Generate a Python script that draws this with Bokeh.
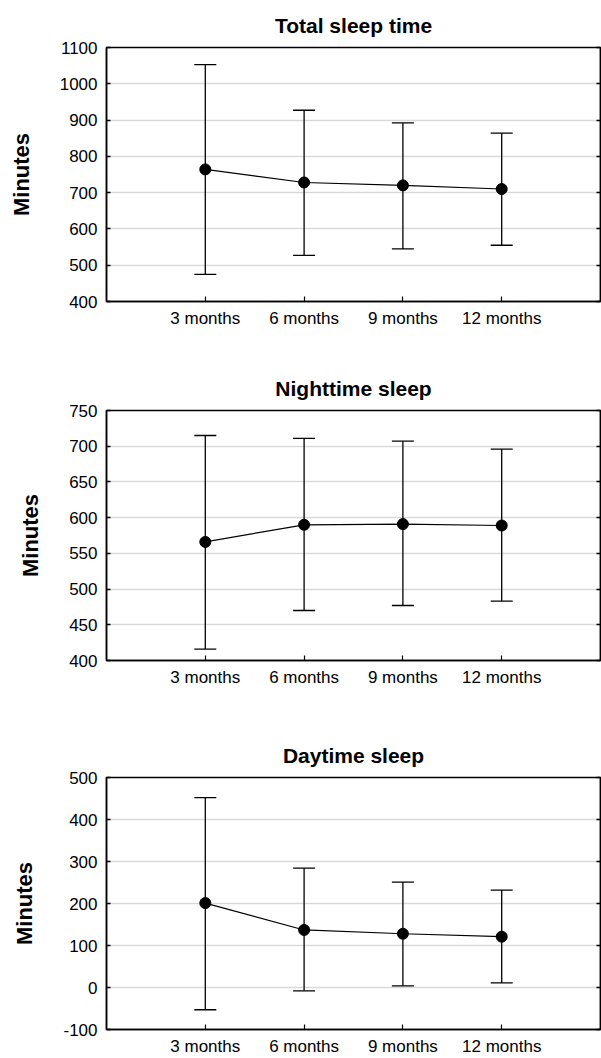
from bokeh.plotting import figure
from bokeh.layouts import column
from bokeh.models import (FactorRange, Range1d, FixedTicker, LinearAxis, Whisker,
                          TeeHead, ColumnDataSource)
from bokeh.embed import file_html
from bokeh.resources import INLINE

categories = ["3 months", "6 months", "9 months", "12 months"]

total_mean = [764, 728, 720, 710]
total_upper = [1053, 927, 892, 864]
total_lower = [475, 527, 545, 555]

night_mean = [566, 590, 591, 589]
night_upper = [715, 711, 707, 696]
night_lower = [416, 470, 477, 483]

day_mean = [201, 137, 128, 121]
day_upper = [452, 284, 251, 232]
day_lower = [-53, -8, 4, 11]

FONT = "'Liberation Sans', Arial, sans-serif"


def make(title, mean, upper, lower, ymin, ymax, step, height, mbt, mbb):
    p = figure(x_range=FactorRange(factors=categories, range_padding=0.25),
               y_range=Range1d(ymin, ymax), width=601, height=height,
               output_backend="svg", toolbar_location=None,
               min_border_left=106, min_border_right=1,
               min_border_top=mbt, min_border_bottom=mbb, title=title)
    p.background_fill_color = "white"
    p.border_fill_color = "white"
    p.outline_line_color = "black"
    p.outline_line_width = 1.5

    p.title.text_font = FONT
    p.title.text_font_style = "bold"
    p.title.text_font_size = "21px"
    p.title.text_color = "black"
    p.title.align = "center"
    p.title.standoff = 21

    ticks = list(range(ymin, ymax + 1, step))
    ticker = FixedTicker(ticks=ticks)
    ya = p.left[0]
    ya.ticker = ticker
    ya.major_label_overrides = {t: str(t) for t in ticks}
    ya.axis_label = "Minutes"
    ya.axis_label_text_font = FONT
    ya.axis_label_text_font_style = "bold"
    ya.axis_label_text_font_size = "22px"
    ya.axis_label_text_color = "black"
    ya.axis_label_standoff = 23
    ya.major_label_text_font = FONT
    ya.major_label_text_font_size = "17px"
    ya.major_label_text_color = "black"
    ya.major_label_standoff = 9
    ya.major_tick_in = 4
    ya.major_tick_out = 0
    ya.minor_tick_in = 0
    ya.minor_tick_out = 0
    ya.axis_line_color = "black"
    ya.axis_line_width = 1.5
    ya.major_tick_line_color = "black"
    ya.major_tick_line_width = 1.5

    xa = p.below[0]
    xa.major_label_text_font = FONT
    xa.major_label_text_font_size = "17px"
    xa.major_label_text_color = "black"
    xa.major_label_standoff = 7
    xa.major_tick_in = 5
    xa.major_tick_out = 0
    xa.axis_line_color = "black"
    xa.axis_line_width = 1.5
    xa.major_tick_line_color = "black"
    xa.major_tick_line_width = 1.2

    ra = LinearAxis(ticker=ticker,
                    major_label_overrides={t: "" for t in ticks},
                    major_label_standoff=0, major_tick_in=4, major_tick_out=0,
                    minor_tick_in=0, minor_tick_out=0,
                    axis_line_color="black", axis_line_width=1.5,
                    major_tick_line_color="black", major_tick_line_width=1.5)
    p.add_layout(ra, "right")

    p.xgrid.visible = False
    p.ygrid.ticker = ticker
    p.ygrid.grid_line_color = "#d9d9d9"
    p.ygrid.grid_line_width = 1.5

    src = ColumnDataSource(dict(x=categories, m=mean, u=upper, l=lower))
    w = Whisker(base="x", upper="u", lower="l", source=src, dimension="height",
                line_color="black", line_width=1.3, level="annotation",
                upper_head=TeeHead(size=22, line_color="black", line_width=1.3),
                lower_head=TeeHead(size=22, line_color="black", line_width=1.3))
    p.add_layout(w)
    p.line("x", "m", source=src, line_color="black", line_width=1.2)
    p.scatter("x", "m", source=src, size=11, color="black")
    return p


p1 = make("Total sleep time", total_mean, total_upper, total_lower,
          400, 1100, 100, 341, 47, 40)
p2 = make("Nighttime sleep", night_mean, night_upper, night_lower,
          400, 750, 50, 359, 69, 40)
p3 = make("Daytime sleep", day_mean, day_upper, day_lower,
          -100, 500, 100, 358, 77, 28)

layout = column(p1, p2, p3, spacing=0)

open("out.html", "w").write(file_html(layout, INLINE))
